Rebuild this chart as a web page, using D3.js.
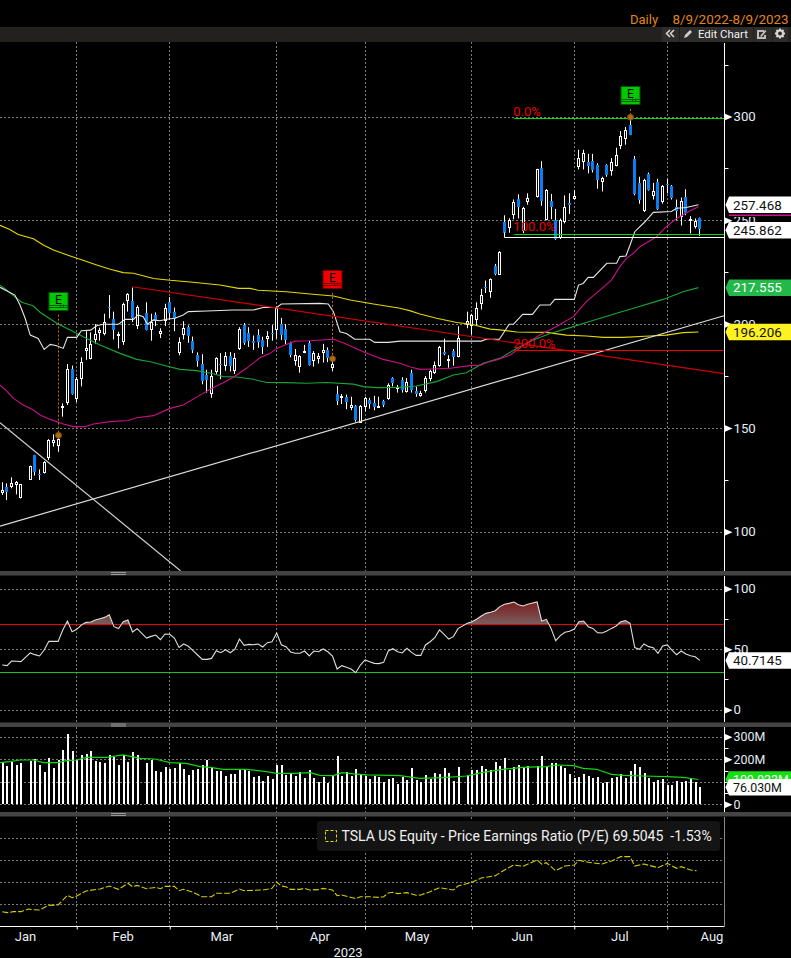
<!DOCTYPE html>
<html>
<head>
<meta charset="utf-8">
<title>TSLA daily chart</title>
<script src="https://cdn.jsdelivr.net/npm/d3@7/dist/d3.min.js"></script>
<style>
  html, body { margin: 0; padding: 0; background: #000; }
  svg { display: block; }
  text { font-family: Roboto, "Liberation Sans", sans-serif; }
</style>
</head>
<body>
<svg id="chart" width="791" height="958"></svg>
<script>
// Daily OHLC by session slot; null marks a market holiday that keeps its slot.
const openPrices = [119.1,121.4,121.7,122.8,116.5,null,125.5,136.9,128,128.6,136,142.9,141.8,160,162.5,178.4,164.2,173.9,187.2,183.8,192.7,196.3,195.9,208.2,202.3,194.4,192,211.6,211.1,199.6,null,205.2,197.6,204.4,195.9,202,210.6,206,186.6,195,198.4,191.9,185,180.8,175.5,166.6,177,181,180.1,184.5,177.6,188.3,199.6,195.5,191.8,194.7,192.3,193,195.6,197.5,200,197.6,190.7,182.7,179.8,186.5,190.7,182.7,183.7,186.4,187.7,179,166.3,165,164.7,159.6,160.5,152.7,160.5,163.4,161.8,160.2,163.1,164.1,174,169,173,168.2,176.3,167.8,165.5,168.2,173.9,177,180.5,186.6,182.5,187,184.8,null,199.9,199.7,202.3,210,218,216,228,224.1,249.2,246.9,253,260.1,245.3,259,null,261.4,275,250.5,259.3,250.1,242.1,249.3,258.3,260.3,276.1,278.2,278.2,278.6,276.6,268.6,276.6,274.2,276.8,286.3,289.6,295.7,279.5,267.8,255,272.5,262.5,268.4,259.3,267.5,266.5,256.2,252.1,261,250.1,247.4,251.1];
const highPrices = [123.8,123.3,126.2,124.4,123,null,131.8,137,130,134,144.6,146.9,146.5,161.8,180.8,180,174.5,184,196.6,196,200,198.3,205,214,206,196.3,210.3,214.9,217.6,209,null,210.5,205,205.6,198,209.8,213,208,193.6,201.4,199.4,194,186.4,185.5,178,178,184,186,186.5,186.5,186,198.5,200.5,198.5,194.5,197.5,193.9,196.6,199.5,208.5,203,200,191.5,188,185,190,192,187,186,190.5,188.8,183,170.2,166.3,166,165,161,161,165,164.5,165.5,165,163.5,171.5,174.4,170.7,174.4,174,178,170,167.9,175,178,182,189.5,193,185,188,199,null,206,205,210.5,217,221,222,229,235.2,252.4,251,260,262.5,256.5,263,null,274.8,278.5,265,262.7,255.5,250.8,262,263,264.5,284,284,282,282,277.5,271,277,280,285,293,295,299.6,281,271,270,273,268,270,267,270,267,260,261,265,252,250.9,251.3];
const lowPrices = [117.7,115.2,120.9,118,116,null,125.3,127,124.9,128,134.5,141,138.5,155.4,161,166,162.5,170,182.8,183,190.6,192,194.6,202.8,192.6,188.3,190,206,201,197.6,null,197,192,199,193.3,199,202,196.6,185,192.6,191,186,179.5,171,167,164.5,176,173.5,177.5,177.2,176,187.5,190,189,187.6,188.6,185.6,189,192,193,192.3,190.3,184,180,176.6,186,180,179.5,181,181.5,181.7,177.2,161,161.5,159,158.5,153,152.4,158,159.2,158.5,159.8,160,163.5,170,167,167,167,167,165,165,167,172.5,176,179.5,185,179,180,184,null,198,195,199.5,207,215,212.7,223.5,224,243,244,250.5,250.9,243.8,257.5,null,261,257,250,250.5,240.6,241,248.5,253,260,274.5,274.5,272.6,273,265.2,263.9,271,271.5,276,284.3,286.4,291,262,258,254,264.3,260,255,258,263,260,250,247.5,252.5,243.7,246,242.5];
const closePrices = [120.1,118.8,123.3,123.9,122.8,null,131.6,128.9,127.5,133.6,144,144,144.6,160.5,178.4,166.3,173.4,181.7,188.3,190.4,195,197.2,201.2,207.5,196.8,195,209.7,214.5,202.8,208.4,null,197.2,201.2,201.6,196.8,207.6,205.2,202.8,191.2,198,194,187.5,181.9,172.7,173,174.8,183.5,180.5,184.5,179.8,183.5,197.5,191,191.8,190.7,191.5,189.1,194.1,195.2,207.6,194.7,192.3,185,185,184.6,187,180.3,185.9,184.8,187.5,184,180.6,163.1,165.6,162.5,160.8,153.8,160.5,164.2,161.5,159.9,160.7,161,170.5,171.5,169.7,168.2,172.3,167.9,166.3,166.6,173.9,177.4,180.3,189.1,185.8,183.2,184,193.3,null,201.3,204.4,207.6,214,217.7,221.6,224,234.9,244,250.1,259,256.2,255.8,260.6,null,274.5,259,264.6,256.2,240.8,250.1,256.2,257.5,261.5,279.8,282.2,276.3,274.2,269.4,270.2,271.7,277.9,281.5,290.6,293.5,291.1,262.7,259.8,269.4,264.9,264.3,255.4,266.5,267.2,260.6,254.3,259.1,253.4,250.5,249.7,245.862];

// Moving averages and reference lines, as [slot, price] pairs.
const priceChannel = [[-0.5,217.7],[0.6,216.4],[2.7,214],[3.8,209.2],[4.9,202.8],[6,194.7],[7.7,193.1],[9,187.8],[10.3,190.2],[11.7,189.6],[13.1,188.3],[14,193.6],[16,193.6],[17,196.8],[19,197.1],[20.3,199.2],[21.7,199.9],[25,199.9],[26.4,202.3],[28.2,202.3],[29.2,204.4],[30.3,203.6],[31.2,199.9],[32.5,202],[33.9,201.6],[35.3,202.3],[37.1,202.8],[38.9,204.4],[40,206],[44,206.3],[49.7,206.8],[54,206.8],[56.1,208],[59,208],[60,209.7],[68.3,210],[70.1,209.7],[71.2,206],[72.6,196.3],[74,195.5],[75.8,192.7],[79,192.7],[80.1,191.2],[83,191.2],[85.5,191.8],[103,191.8],[104.1,192.7],[106.9,192.7],[109,199.9],[109.9,199.9],[111.9,204.7],[114,204.7],[115.6,209.2],[117.8,209.2],[118.8,211.9],[123,211.9],[123.9,218.8],[124.9,219.6],[126,222.5],[127.1,222.5],[130,229.3],[132.1,229.3],[132.8,232.5],[134.1,232.8],[135,238.1],[136,244.5],[138.2,249.3],[140,253.8],[143.9,254.2],[145,255.8],[147.1,256.2],[149.7,257.468]];
const ma20 = [[-0.5,170.7],[0.9,167.8],[2.4,164.2],[4.5,161],[6.7,158.6],[8.1,156.2],[10.3,154.1],[13.1,151.9],[15.3,150.6],[17.8,150.6],[19.6,151.9],[23.2,153],[27.1,153.6],[28.9,154.9],[32.5,155.9],[36.1,159.4],[38.9,161],[42.5,165.8],[45.4,169.5],[47.5,171.8],[49.7,174.4],[52.5,178.7],[55.4,183.8],[57.6,185.9],[59,188.3],[61.1,190.2],[62.9,191.8],[66.2,192],[71.2,192.7],[73.3,191],[77.6,186.7],[81.9,183],[85.5,181.1],[87.6,179.5],[89.8,178.2],[92.7,178.4],[96.3,178.7],[100.6,180],[103,180.3],[104.5,181.7],[106.3,182.7],[109.2,185.1],[112.7,190.7],[115.6,194.7],[119.2,198.8],[122.8,203.6],[125.6,210.8],[128.5,216.4],[131,221.2],[132.8,227.7],[134.2,231.7],[135.7,234.1],[137.1,237.3],[140.7,242.1],[142.8,246.9],[145,250.9],[147.9,254.6],[149.7,256.5]];
const ma50 = [[-0.5,218.8],[0.9,216.4],[3.1,212.4],[4.2,210.5],[6.7,208.7],[8.1,205.7],[11.7,200.4],[14.6,197.2],[17.4,193.9],[21,189.9],[25.3,185.9],[28.9,183],[31.8,181.9],[35.3,179.8],[38.2,178.2],[41.8,177.6],[45.4,176.1],[47.5,174.7],[50.4,174.5],[54,173.4],[56.8,171.9],[61.1,171.8],[65.4,171.5],[69.7,171.9],[75.5,171.1],[77.6,169.9],[80.5,169.4],[85.5,169.5],[89,170.2],[93.4,172.3],[97,175.5],[99.8,176.6],[103.4,181.1],[107,183.5],[110.6,188.3],[114.2,192.3],[117.8,195.5],[122.1,198.3],[125.6,200.8],[132.1,205.2],[135.7,207.6],[142.1,211.9],[146.4,215.6],[149.7,217.555]];
const ma200 = [[-0.5,247.6],[1.6,245.6],[3.4,243.2],[6.7,241.1],[8.8,238.1],[11,235.7],[14.6,232.8],[16.7,231.2],[20.3,228.5],[23.2,226.4],[26,224.8],[28.2,224.5],[32.5,222],[36.1,221.1],[40.4,220.3],[46.8,218.8],[50.8,217.2],[53.3,217.2],[55,216.3],[61.1,215.6],[66.2,214.5],[71.2,213.5],[74.8,211.6],[79.8,209.7],[85.5,207.6],[87.6,206.5],[89.8,204.9],[93.4,202.8],[97.7,200.8],[100.9,199.9],[104.9,197.6],[107,197.2],[110.6,196.2],[117,196],[121.3,194.7],[125.6,194.3],[129.2,193.6],[133.5,193.6],[139.3,194.3],[142.8,194.7],[146.4,195.9],[149.7,196.206]];
const redTrend = [[28,218],[155.2,176.1]];
const supportTrend = [[-0.5,102.7],[155.2,204]];
const fallingTrend = [[-0.5,152.5],[38.3,81.2]];
const fibLevels = [["0.0%",299.1,"#00e000"],["100.0%",243.3,"#00e000"],["200.0%",187.4,"#f00000"]];
const fibStartSlot = 110;
const swingLow = 242;
const swingLowSlot = 108;

// Earnings flags: slot, price of the dot, price at the flag's lower edge, colours.
const earningsSlots = [12,71,135];
const earningsPrices = [146.4,183.3,299.6];
const earningsTops = [206.5,217,305.5];
const earningsColors = [["#00c800","#005800"],["#f00000","#7a0000"],["#00c800","#005800"]];

// 14-day RSI, one value per slot.
const rsiValues = [36.9,36.4,40.2,40,39.7,null,46.9,45.5,44.4,49.3,56.5,56.5,56.5,65.9,73.3,64.5,66.4,70,72.2,72.5,74.1,75.2,76.3,78.5,68.6,67,72.7,74.1,64.2,67,null,59.2,60.6,61.7,57.9,62.6,62.3,59.2,51.5,54.3,52.4,48.8,45.2,41.6,41.6,42.4,48.8,47.1,49.6,47.1,49.9,58.4,53.2,54,53.7,54.3,51.8,55.4,56.2,63.4,53.7,52.1,47.7,46.6,46.6,48.5,44.4,48.5,47.9,50.2,47.9,44.4,33.6,36.4,35,33.6,30.6,36.9,41.1,39.7,38.3,38.1,39.1,48.5,50.4,47.9,46.9,50.7,47.4,44.9,44.9,53.5,56.2,59.5,65.9,62.3,58.4,60.4,67,null,71.4,72.7,74.7,77.4,79.6,80.5,81.8,85.2,87.1,87.9,89,86.8,85.7,87.1,null,89,73.3,74.7,67.2,57,61.2,64,64.8,66.7,72.7,73.3,68.6,67.2,63.7,63.4,65,67.2,69.2,72.7,73.6,71.4,51.3,49.9,54.3,52.1,51.3,46.6,52.6,53.5,49.3,45.5,48.5,46,44.6,43.8,40.7145];
const rsiLevels = [70,30];

// Volume in millions per slot, plus its moving average as [slot, value] pairs.
const volumeValues = [189.3,170,187.8,176,183.4,null,190.8,199.7,174.5,143.5,204,161.2,196.7,241,312,236.6,196.7,218.9,223.3,236.6,192.3,187.8,183.4,218.9,211.5,174.5,218.9,189.3,232.2,218.9,null,183.4,196.7,147.9,143.5,165.6,158.3,161.2,183.4,156.8,130.2,152.3,158.3,174.5,196.7,167.1,147.9,147.9,125.7,134.6,134.6,152.3,156.8,147.9,121.3,125.7,103.5,125.7,112.4,174.5,174.5,130.2,139,125.7,143.5,116.8,152.3,116.8,99.1,121.3,94.7,125.7,214.5,125.7,143.5,125.7,156.8,130.2,127.2,112.4,125.7,121.3,99.1,112.4,116.8,90.2,122.8,108,161.2,108,99.1,130.2,112.4,139,134.6,161.2,139,102,165.6,null,130.2,152.3,152.3,170,156.8,152.3,187.8,170,205.6,152.3,165.6,174.5,165.6,170,null,170,214.5,165.6,183.4,183.4,170,161.2,134.6,116.8,121.3,134.6,125.7,116.8,121.3,94.7,99.1,116.8,121.3,134.6,116.8,147.9,179,167.1,139,116.8,99.1,108,112.4,85.8,85.8,103.5,99.1,103.5,112.4,99.1,76.03];
const volumeAverage = [[-0.5,184.9],[1.6,189.3],[3.8,196.7],[6.7,196.7],[8.8,184.9],[12,184.9],[13.8,193.7],[16,196.7],[18.1,208.5],[22.4,208.5],[26,218.9],[29.6,204.1],[32.8,201.1],[36.1,184.9],[39.6,181.9],[42.5,167.1],[44.7,164.2],[47.5,155.3],[52.5,155.3],[56.8,144.9],[59,137.5],[62.6,137.5],[66.2,140.5],[68.3,128.7],[71.2,127.2],[73,140.5],[75.5,134.6],[78.4,130.2],[85.5,127.2],[89.8,115.4],[94.8,118.3],[99.8,125.7],[103.4,142],[108.4,156.8],[112,164.2],[117,167.1],[119.2,174.5],[122.8,171.6],[124.9,159.7],[127.8,155.3],[131,133.1],[133.5,128.7],[137.8,125.7],[142.8,122.8],[146.4,119.8],[149.7,109.933]];

// Price earnings ratio as [slot, value] pairs.
const peRatio = [[0,32.3],[1,31.4],[2.4,32.3],[4,32.3],[5.6,34.7],[6.7,34.1],[8,33.8],[9.9,38],[12,38.4],[14,47.2],[15,45],[16,46.5],[18,51.1],[21,52.9],[23,55.6],[25,52.6],[27,58.1],[28,55],[29,56.2],[31,53.2],[33,54.4],[34,53.2],[35,55.3],[37,55.3],[38,51.4],[39,52.6],[41,49.9],[43,45.9],[45,45.9],[46,49],[48,49],[49,49],[51,52.9],[52,51.4],[56,52],[58,53.5],[59,59.3],[60,55.6],[61,55],[62,52.6],[64,52.6],[65,53.5],[66,52],[68,52.3],[69,53.5],[71,52],[72,46.8],[73,47.5],[76,44.1],[77,45.9],[79,45.9],[81,45.3],[82,45.9],[83,49.3],[84,49.9],[85,48.7],[87,49.6],[89,47.2],[90,47.5],[92,50.5],[94,54.1],[97,52],[98,55.6],[101,59],[103,62.9],[106,65],[108,70.2],[110,74.7],[112,73.5],[115,79.3],[116,75.6],[117,76.8],[119,69.6],[121,73.8],[123,74.7],[124,79],[126,77.2],[129,75.6],[131,78.4],[133,82.3],[135,82.3],[136,73.8],[138,75.6],[141,72.3],[143,76.2],[145,71.7],[146,73.2],[148,70.2],[149.3,69.5045]];
const peGridValues = [39,59,79,99];

// Axis ticks.
const monthLabels = ["Jan","Feb","Mar","Apr","May","Jun","Jul","Aug"];
const monthLabelSlots = [5,26,47.2,68.3,89.2,111.8,132.8,152.6];
const monthEndSlots = [16,36,59,78,101,123,143];
const priceMajor = [300,250,200,150,100];
const priceMinor = [325,275,225,175,125];
const rsiMajor = [100,50,0];
const rsiMinor = [75,25];
const volMajor = [300,200,0];
const volGrid = [300,200,100,0];
const volMinor = [250,150,100,50];

const WIDTH = 791, AXIS_X = 724.5;
const svg = d3.select("#chart");
const defs = svg.append("defs");

const x = d3.scaleLinear().domain([0, 150]).range([2.33, 699.83]);
const yPrice = d3.scaleLinear().domain([100, 300]).range([531.7, 116.5]);
const yRsi = d3.scaleLinear().domain([0, 100]).range([709.7, 588.7]);
const yVol = d3.scaleLinear().domain([0, 300]).range([804.3, 736.7]);
const yPe = d3.scaleLinear().domain([59, 79]).range([882.3, 860.3]);

const clip = (id, y0, y1, x1 = AXIS_X) => defs.append("clipPath").attr("id", id)
  .append("rect").attr("x", 0).attr("y", y0).attr("width", x1).attr("height", y1 - y0);
clip("clipPrice", 42, 571);
clip("clipRsiTop", 576, yRsi(70));

svg.append("rect").attr("width", WIDTH).attr("height", 958).attr("fill", "#000");

// Header strip with the date range and toolbar.
svg.append("rect").attr("y", 27).attr("width", WIDTH).attr("height", 15).attr("fill", "#23211d");
svg.append("text").attr("x", 630).attr("y", 24).attr("fill", "#e0861a").attr("font-size", 13).text("Daily");
svg.append("text").attr("x", 672.5).attr("y", 24).attr("fill", "#e0861a").attr("font-size", 13.4).text("8/9/2022-8/9/2023");
[[662, 17], [680, 73], [754, 18], [773, 15]].forEach(([bx, bw]) =>
  svg.append("rect").attr("x", bx).attr("y", 27).attr("width", bw).attr("height", 15).attr("fill", "#2e2d2b"));
svg.append("path").attr("d", "M672 30l-3.5 3.5 3.5 3.5M676 30l-3.5 3.5 3.5 3.5").attr("transform", "translate(-2,0)")
  .attr("fill", "none").attr("stroke", "#d8d8d8").attr("stroke-width", 1.5);
svg.append("path").attr("d", "M684 38l1-3 5-5 2 2-5 5z").attr("fill", "#cfcfcf");
svg.append("text").attr("x", 698).attr("y", 37.5).attr("fill", "#f2f2f2").attr("font-size", 11.4).text("Edit Chart");
svg.append("path").attr("d", "M757 30h7v2h-5v5h5v-2l2 0v4h-9zM760 36l5-6 1.5 1-5 6z").attr("fill", "#bcbcbc");
svg.append("g").attr("transform", "translate(780,33.5)").call(g => {
  g.append("circle").attr("r", 3).attr("fill", "none").attr("stroke", "#d8d8d8").attr("stroke-width", 2);
  d3.range(8).forEach(k => g.append("rect").attr("x", -1).attr("y", -5).attr("width", 2).attr("height", 2)
    .attr("fill", "#d8d8d8").attr("transform", `rotate(${k * 45})`));
});

// Shared dashed grid.
const gridColor = "#7b7b7b";
const hGrid = (vals, scale) => svg.append("g").selectAll("line").data(vals).join("line")
  .attr("x1", 0).attr("x2", AXIS_X)
  .attr("y1", d => Math.round(scale(d)) + 0.5).attr("y2", d => Math.round(scale(d)) + 0.5)
  .attr("stroke", gridColor).attr("stroke-dasharray", "2 2");
hGrid(priceMajor, yPrice);
hGrid(rsiMajor, yRsi);
hGrid(volGrid, yVol);
hGrid(peGridValues, yPe);

[[42, 571], [576, 722], [727, 812], [817, 926]].forEach(([top, bottom]) => {
  svg.append("g").selectAll("line").data(monthEndSlots).join("line")
    .attr("x1", d => Math.floor(x(d)) + 0.5).attr("x2", d => Math.floor(x(d)) + 0.5)
    .attr("y1", top).attr("y2", bottom)
    .attr("stroke", gridColor).attr("stroke-dasharray", "2 2");
});

// Price panel content.
const price = svg.append("g").attr("clip-path", "url(#clipPrice)");
const priceLine = d3.line().x(d => x(d[0])).y(d => yPrice(d[1]));
const drawPriceLine = (data, color, width = 1) => price.append("path").datum(data)
  .attr("d", priceLine).attr("fill", "none").attr("stroke", color).attr("stroke-width", width);

const slots = d3.range(openPrices.length).filter(i => openPrices[i] !== null);
const cx = i => Math.floor(x(i)) + 0.5;

const candle = price.append("g").selectAll("g").data(slots).join("g");
candle.append("line")
  .attr("x1", cx).attr("x2", cx)
  .attr("y1", i => yPrice(highPrices[i])).attr("y2", i => yPrice(lowPrices[i]))
  .attr("stroke", "#fff");
candle.append("rect")
  .each(function(i) {
    const up = closePrices[i] >= openPrices[i];
    const top = yPrice(Math.max(openPrices[i], closePrices[i]));
    const bottom = yPrice(Math.min(openPrices[i], closePrices[i]));
    const sel = d3.select(this);
    if (up) {
      sel.attr("x", cx(i) - 1).attr("width", 2)
        .attr("y", Math.round(top) + 0.5).attr("height", Math.max(1, Math.round(bottom - top)))
        .attr("fill", "#000").attr("stroke", "#fff").attr("shape-rendering", "crispEdges");
    } else {
      sel.attr("x", cx(i) - 1.5).attr("width", 3)
        .attr("y", Math.round(top)).attr("height", Math.max(1, Math.round(bottom - top)))
        .attr("fill", "#0a7ff0").attr("shape-rendering", "crispEdges");
    }
  });

drawPriceLine(ma200, "#e2d800", 1.1);
drawPriceLine(ma50, "#17a535", 1.1);
drawPriceLine(ma20, "#cc0f88", 1.1);
drawPriceLine(priceChannel, "#e6e6e6", 1.1);
drawPriceLine(redTrend, "#cf0000", 1.2);
drawPriceLine(supportTrend, "#dcdcdc", 1.2);
drawPriceLine(fallingTrend, "#d0d0d0", 1.2);

// Swing low marker and retracement levels.
const lowY = Math.round(yPrice(swingLow)) + 0.5;
price.append("path").attr("d", `M${cx(swingLowSlot)} ${lowY - 5}V${lowY}H${AXIS_X}`)
  .attr("fill", "none").attr("stroke", "#fff");
price.append("g").selectAll("line").data(fibLevels).join("line")
  .attr("x1", x(fibStartSlot) + 0.5).attr("x2", AXIS_X)
  .attr("y1", d => Math.round(yPrice(d[1])) + 0.5).attr("y2", d => Math.round(yPrice(d[1])) + 0.5)
  .attr("stroke", d => d[2]);
price.append("g").selectAll("text").data(fibLevels).join("text")
  .attr("x", x(fibStartSlot) - 0.5).attr("y", d => yPrice(d[1]) - (d[0] === "100.0%" ? 3 : 2))
  .attr("fill", "#e80000").attr("font-size", 13).text(d => d[0]);

// Earnings flags with their leader and dot.
const flags = price.append("g").selectAll("g").data(earningsSlots).join("g");
flags.append("line")
  .attr("x1", d => cx(d)).attr("x2", d => cx(d))
  .attr("y1", (d, k) => yPrice(earningsTops[k]) + 4).attr("y2", (d, k) => yPrice(earningsPrices[k]))
  .attr("stroke", "#c8740c").attr("stroke-dasharray", "2 2");
flags.append("circle")
  .attr("cx", d => cx(d)).attr("cy", (d, k) => yPrice(earningsPrices[k])).attr("r", 3)
  .attr("fill", "#b06a12").attr("stroke", "#7a4a0c");
flags.append("rect")
  .attr("x", d => cx(d) - 9.5).attr("width", 19)
  .attr("y", (d, k) => Math.round(yPrice(earningsTops[k])) - 18.5).attr("height", 18)
  .attr("fill", (d, k) => earningsColors[k][0]).attr("stroke", (d, k) => earningsColors[k][1]);
flags.append("text")
  .attr("x", d => cx(d)).attr("text-anchor", "middle")
  .attr("y", (d, k) => Math.round(yPrice(earningsTops[k])) - 7).attr("font-size", 12).attr("fill", "#000")
  .text("E");
flags.append("path")
  .attr("d", (d, k) => {
    const ty = Math.round(yPrice(earningsTops[k]));
    const l = cx(d) - 9, r = cx(d) + 9;
    return `M${l} ${ty - 5.5}H${r}M${l} ${ty - 3.5}H${r}M${cx(d) + 2} ${ty - 6.5}v3M${cx(d) + 5} ${ty - 6.5}v3`;
  })
  .attr("stroke", (d, k) => earningsColors[k][1]).attr("fill", "none");

// RSI panel.
const rsiPoints = d3.range(rsiValues.length).filter(i => rsiValues[i] !== null).map(i => [i, rsiValues[i]]);
const grad = defs.append("linearGradient").attr("id", "obFill").attr("gradientUnits", "userSpaceOnUse")
  .attr("x1", 0).attr("x2", 0).attr("y1", yRsi(90)).attr("y2", yRsi(70));
grad.append("stop").attr("offset", 0).attr("stop-color", "#7a1a1a");
grad.append("stop").attr("offset", 1).attr("stop-color", "#7a6060");
svg.append("path").datum(rsiPoints)
  .attr("clip-path", "url(#clipRsiTop)")
  .attr("d", d3.area().x(d => x(d[0])).y0(yRsi(70)).y1(d => yRsi(d[1])))
  .attr("fill", "url(#obFill)");
svg.append("g").selectAll("line").data(rsiLevels).join("line")
  .attr("x1", 0).attr("x2", AXIS_X)
  .attr("y1", d => Math.round(yRsi(d)) - 0.5).attr("y2", d => Math.round(yRsi(d)) - 0.5)
  .attr("stroke", d => d === 70 ? "#f00000" : "#18c418");
svg.append("path").datum(rsiPoints)
  .attr("d", d3.line().x(d => x(d[0])).y(d => yRsi(d[1])))
  .attr("fill", "none").attr("stroke", "#dedede").attr("stroke-width", 1.1);

// Volume panel.
svg.append("g").selectAll("rect").data(d3.range(volumeValues.length).filter(i => volumeValues[i] !== null)).join("rect")
  .attr("x", i => cx(i) - 1).attr("width", 2)
  .attr("y", i => yVol(volumeValues[i])).attr("height", i => yVol(0) - yVol(volumeValues[i]))
  .attr("fill", "#fff").attr("shape-rendering", "crispEdges");
svg.append("path").datum(volumeAverage)
  .attr("d", d3.line().x(d => x(d[0])).y(d => yVol(d[1])))
  .attr("fill", "none").attr("stroke", "#0fd80f").attr("stroke-width", 1.2);

// Price earnings panel.
svg.append("path").datum(peRatio)
  .attr("d", d3.line().x(d => x(d[0])).y(d => yPe(d[1])))
  .attr("fill", "none").attr("stroke", "#d6cc00").attr("stroke-width", 1.1).attr("stroke-dasharray", "6 2");
svg.append("rect").attr("x", 317).attr("y", 821).attr("width", 403).attr("height", 30).attr("rx", 3).attr("fill", "#141414");
svg.append("rect").attr("x", 325.5).attr("y", 830.5).attr("width", 11).attr("height", 11)
  .attr("fill", "none").attr("stroke", "#e8de00").attr("stroke-dasharray", "3 2");
svg.append("text").attr("x", 341.5).attr("y", 841).attr("fill", "#f0f0f0").attr("font-size", 14)
  .attr("xml:space", "preserve").text("TSLA US Equity - Price Earnings Ratio (P/E) 69.5045  -1.53%");

// Right-hand axes: arrow ticks at the majors, short ticks at the minors.
const labelColor = "#e4ecf6";
function valueAxis(scale, major, minor, fmt, size = 13.2) {
  const g = svg.append("g").attr("transform", `translate(${AXIS_X},0)`);
  g.call(d3.axisRight(scale).tickValues(major).tickSize(0).tickPadding(9).tickFormat(fmt));
  g.select(".domain").remove();
  g.selectAll("text").attr("fill", labelColor).attr("font-size", size).attr("font-family", "Roboto");
  g.selectAll(".tick").append("path").attr("d", "M0 -3.5L8 0L0 3.5Z").attr("fill", "#fff");
  g.append("g").selectAll("line").data(minor).join("line")
    .attr("x1", 0).attr("x2", 4).attr("y1", d => Math.round(scale(d)) + 0.5).attr("y2", d => Math.round(scale(d)) + 0.5)
    .attr("stroke", "#fff");
}
valueAxis(yPrice, priceMajor, priceMinor, d3.format("d"));
valueAxis(yRsi, rsiMajor, rsiMinor, d3.format("d"));
valueAxis(yVol, volMajor, volMinor, d => d === 0 ? "0" : d + "M", 12.4);

[[43, 571], [576, 722], [727, 812]].forEach(([a, b]) =>
  svg.append("line").attr("x1", AXIS_X).attr("x2", AXIS_X).attr("y1", a).attr("y2", b).attr("stroke", "#fff"));
svg.append("line").attr("x1", AXIS_X).attr("x2", AXIS_X).attr("y1", 817).attr("y2", 926).attr("stroke", "#8a8a8a");

// Bottom time axis.
const monthAxis = svg.append("g").attr("transform", "translate(0,926.5)")
  .call(d3.axisBottom(x).tickValues(monthEndSlots).tickSize(3).tickFormat(""));
monthAxis.select(".domain").attr("d", `M0 0H${AXIS_X}`).attr("stroke", "#fff");
monthAxis.selectAll("line").attr("stroke", "#fff");
svg.append("g").selectAll("text").data(monthLabels).join("text")
  .attr("x", (d, k) => x(monthLabelSlots[k])).attr("y", 941).attr("text-anchor", "middle")
  .attr("fill", "#e8eef6").attr("font-size", 13).text(d => d);
svg.append("text").attr("x", 348).attr("y", 956.5).attr("text-anchor", "middle")
  .attr("fill", "#e8eef6").attr("font-size", 13).text("2023");

// Panel separators with their drag handles.
[571, 722.5, 812].forEach(sy => {
  svg.append("rect").attr("y", sy).attr("width", WIDTH).attr("height", 4.5).attr("fill", "#444");
  svg.append("path").attr("d", `M111 ${sy + 1.5}H126M111 ${sy + 3.5}H126`).attr("stroke", "#9a9a9a");
});

// Last-value tags on the right edge.
function tag(cy, value, bg, fg, size = 13.4) {
  const h = 16.5, y0 = cy - h / 2, y1 = cy + h / 2;
  svg.append("path")
    .attr("d", `M791 ${y0}H729L725.5 ${cy}L729 ${y1}H791Z`).attr("fill", bg);
  svg.append("text").attr("x", 733).attr("y", cy + 4.8).attr("fill", fg).attr("font-size", size).text(value);
}
// Clipped magenta marker between the two top tags.
svg.append("rect").attr("x", 729).attr("y", 212).attr("width", 62).attr("height", 5).attr("fill", "#000");
svg.append("rect").attr("x", 729).attr("y", 214.5).attr("width", 62).attr("height", 1.5).attr("fill", "#d0108a");
tag(yPrice(257.468), "257.468", "#fff", "#111");
tag(yPrice(245.862) + 1.3, "245.862", "#fff", "#111");
tag(yPrice(217.555), "217.555", "#23b84a", "#fff");
tag(yPrice(196.206), "196.206", "#fff222", "#111");
tag(yRsi(40.7145), "40.7145", "#fff", "#111");
tag(yVol(109.933), "109.933M", "#14e014", "#fff", 12.4);
tag(yVol(76.03), "76.030M", "#fff", "#111", 12.4);
</script>
</body>
</html>
